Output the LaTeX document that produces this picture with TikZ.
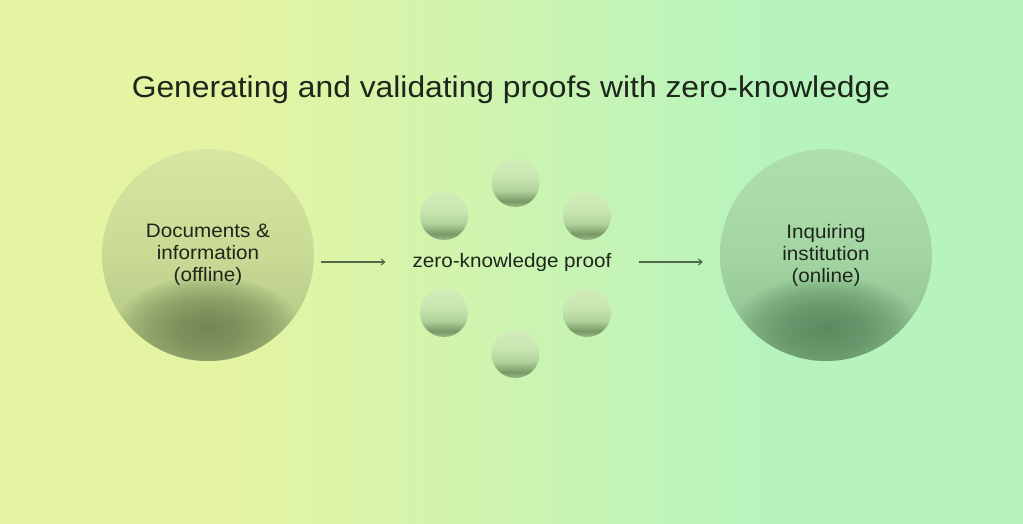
\documentclass[tikz,border=0pt]{standalone}
\usepackage{fontspec}
\setmainfont{Liberation Sans}
\newfontfamily\widesans[FakeStretch=1.06]{Liberation Sans}
\usetikzlibrary{arrows.meta,calc}

\definecolor{bgL}{HTML}{E5F4A2}
\definecolor{bgM}{HTML}{D2F4AE}
\definecolor{bgR}{HTML}{B7F4BD}
\definecolor{txt}{HTML}{1E261C}
\definecolor{arrc}{HTML}{52674A}
% left big sphere
\definecolor{lbTop}{HTML}{D5E7A1}
\definecolor{lbMid}{HTML}{C8DA94}
\definecolor{lbBot}{HTML}{AFC383}
\definecolor{lbDark}{HTML}{6A7F4E}
% right big sphere
\definecolor{rbTop}{HTML}{B0DFAE}
\definecolor{rbMid}{HTML}{A3D5A3}
\definecolor{rbBot}{HTML}{8BBC8C}
\definecolor{rbDark}{HTML}{55855B}
% small spheres
\definecolor{sbTop}{HTML}{D2ECBA}
\definecolor{sbHi}{HTML}{C8E5AF}
\definecolor{sbMid}{HTML}{B0D29B}
\definecolor{sbDark}{HTML}{789966}
\definecolor{sbBot}{HTML}{9DBB88}

\pgfdeclareverticalshading{smallshade}{100bp}{color(0bp)=(sbBot); color(25bp)=(sbBot); color(31bp)=(sbDark); color(42bp)=(sbMid); color(55bp)=(sbHi); color(75bp)=(sbTop); color(100bp)=(sbTop)}
\pgfdeclareverticalshading{leftshade}{100bp}{color(0bp)=(lbBot); color(25bp)=(lbBot); color(50bp)=(lbMid); color(75bp)=(lbTop); color(100bp)=(lbTop)}
\pgfdeclareverticalshading{rightshade}{100bp}{color(0bp)=(rbBot); color(25bp)=(rbBot); color(50bp)=(rbMid); color(75bp)=(rbTop); color(100bp)=(rbTop)}

\tikzset{
  title/.style={font=\widesans\fontsize{30}{36}\selectfont, text=txt, inner sep=0pt},
  label/.style={font=\widesans\fontsize{19.5}{22}\selectfont, text=txt, inner sep=0pt, align=center},
  bigball/.style={circle, minimum size=212pt, inner sep=0pt, label, shade},
  blob/.style={path picture={
    \foreach \k in {1,...,30}{
      \fill[#1, fill opacity=0.05]
        ([yshift=-73pt]path picture bounding box.center)
        ellipse ({92pt*\k/30} and {52pt*\k/30});}}},
  leftball/.style={bigball, shading=leftshade, blob=lbDark},
  rightball/.style={bigball, shading=rightshade, blob=rbDark},
  smallball/.style={circle, minimum size=48pt, inner sep=0pt, shade, shading=smallshade},
  arr/.style={draw=arrc, line width=1.1pt, -{Straight Barb[length=3.5pt,width=6pt]}},
}

\begin{document}
\begin{tikzpicture}[x=1pt,y=-1pt]
\useasboundingbox (0,0) rectangle (1023,523);
\fill[bgL] (-3,-3) rectangle (231,526);
\shade[left color=bgL, middle color=bgM, right color=bgR] (230,-3) rectangle (761,526);
\fill[bgR] (760,-3) rectangle (1026,526);

\node[title, anchor=base] (title) at (511,97.3) {Generating and validating proofs with zero-knowledge};

\node[leftball] (docs) at (208,255) {Documents \&\\information\\(offline)};
\node[rightball] (inst) at (826,255) {Inquiring\\institution\\(online)};

\node[smallball] (s1) at (515.5,183) {};
\node[smallball] (s2) at (587,216) {};
\node[smallball] (s3) at (587,313) {};
\node[smallball] (s4) at (515.5,354) {};
\node[smallball] (s5) at (444,313) {};
\node[smallball] (s6) at (444,216) {};

\node[label] (zk) at (512,262) {zero-knowledge proof};

\draw[arr] ($(docs.east |- zk.west)+(7,0)$) -- ($(zk.west)+(-27,0)$);
\draw[arr] ($(zk.east)+(27,0)$) -- ($(inst.west |- zk.east)+(-17,0)$);
\end{tikzpicture}
\end{document}
